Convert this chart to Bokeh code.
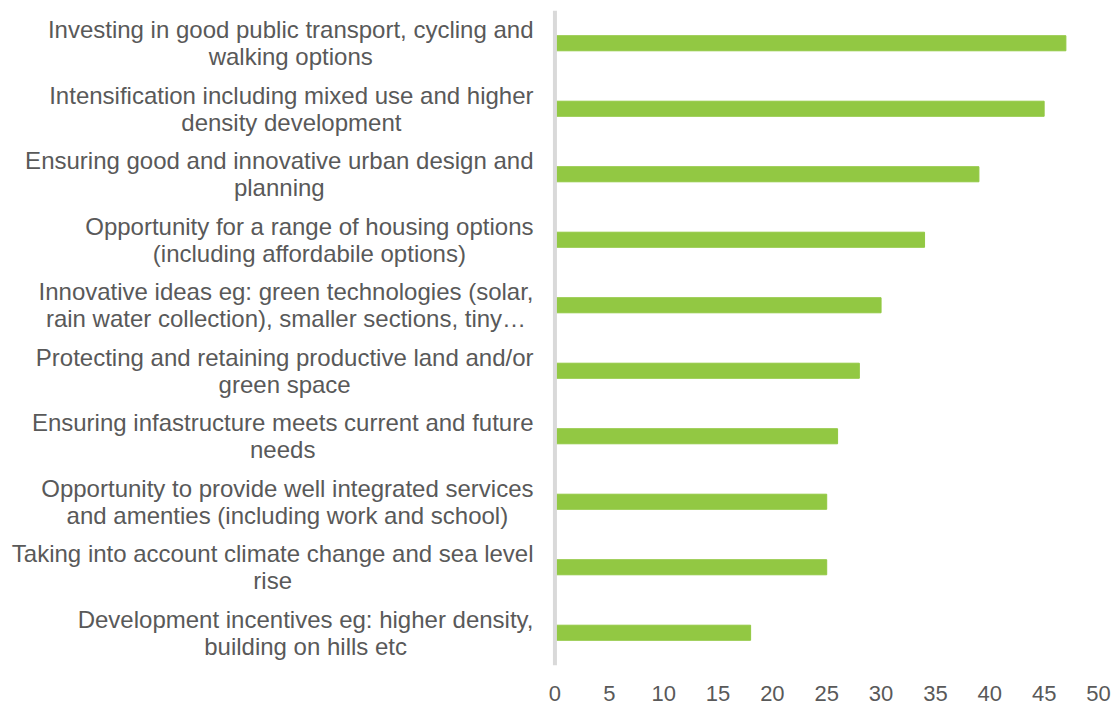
from bokeh.plotting import figure
from bokeh.embed import file_html
from bokeh.resources import INLINE
from bokeh.models import FixedTicker, Label, Range1d, Span

categories = [
    "Investing in good public transport, cycling and\nwalking options",
    "Intensification including mixed use and higher\ndensity development",
    "Ensuring good and innovative urban design and\nplanning",
    "Opportunity for a range of housing options\n(including affordabile options)",
    "Innovative ideas eg: green technologies (solar,\nrain water collection), smaller sections, tiny\u2026",
    "Protecting and retaining productive land and/or\ngreen space",
    "Ensuring infastructure meets current and future\nneeds",
    "Opportunity to provide well integrated services\nand amenties (including work and school)",
    "Taking into account climate change and sea level\nrise",
    "Development incentives eg: higher density,\nbuilding on hills etc",
]
values = [47, 45, 39, 34, 30, 28, 26, 25, 25, 18]
x_ticks = [0, 5, 10, 15, 20, 25, 30, 35, 40, 45, 50]

FONT = "Liberation Sans"
GREY = "#595959"

n = len(categories)
ypos = [n - 0.5 - i for i in range(n)]  # category slots, top to bottom

# frame spans the whole width; the left part (negative x) holds the category labels
p = figure(
    y_range=Range1d(0, n), x_range=Range1d(-51, 50),
    width=1112, height=704, output_backend="svg", toolbar_location=None,
    min_border_left=0, min_border_right=14, min_border_top=10, min_border_bottom=39,
)
p.hbar(y=ypos, right=values, left=0, height=0.23, color="#92C843")

p.xgrid.visible = False
p.ygrid.visible = False
p.outline_line_color = None
p.yaxis.visible = False

p.xaxis.ticker = FixedTicker(ticks=x_ticks)
p.xaxis.axis_line_color = None
p.xaxis.major_tick_line_color = None
p.xaxis.minor_tick_line_color = None
p.xaxis.major_label_text_font = FONT
p.xaxis.major_label_text_font_size = "22px"
p.xaxis.major_label_text_color = GREY
p.xaxis.major_label_standoff = 14

# vertical category axis line at x = 0
p.add_layout(Span(location=0, dimension="height", line_color="#D9D9D9", line_width=4))

for yv, c in zip(ypos, categories):
    p.add_layout(Label(
        x=533, x_units="screen", y=yv, text=c,
        anchor="center_right", text_align="center", text_baseline="middle",
        text_font=FONT, text_font_size="24px", text_color=GREY,
        text_line_height=1.0,
    ))

open("out.html", "w").write(file_html(p, INLINE))
